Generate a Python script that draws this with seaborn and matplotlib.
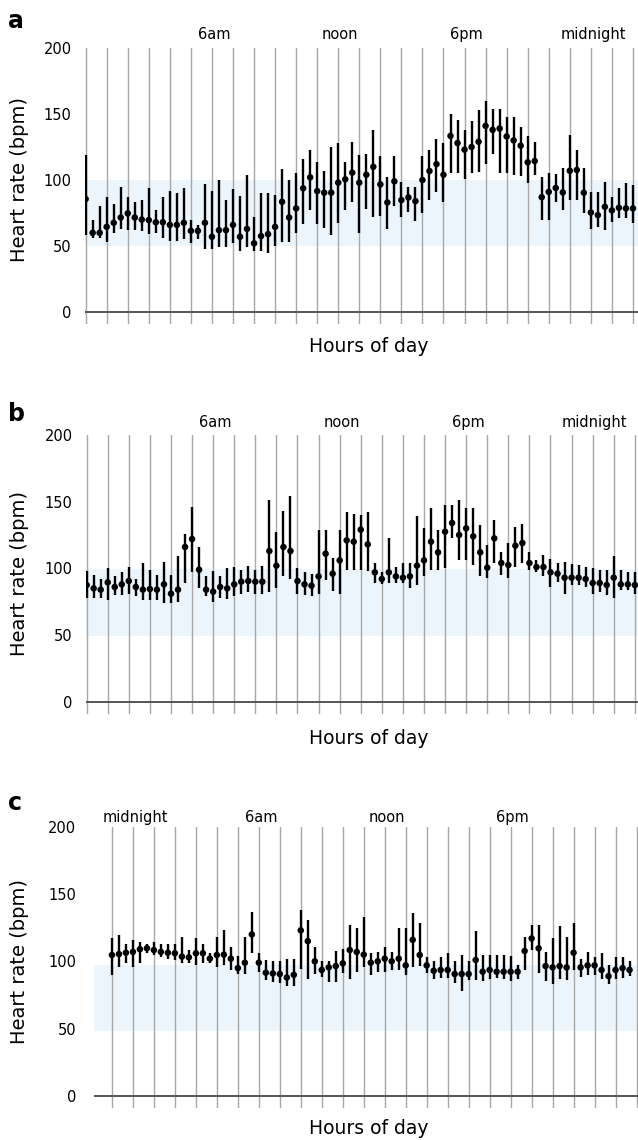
import numpy as np
import pandas as pd
import seaborn as sns
import matplotlib.pyplot as plt

# --- panel a: mean heart rate with upper / lower bar ends, every 20 min ---
a_mean = [85.6, 60, 60, 64.5, 67.6, 71.6, 74.7, 71.6, 70, 69.6, 68, 68, 66, 66, 67.6,
          61.5, 61.5, 67.6, 57, 62, 62, 66, 57, 63, 52, 57.5, 59, 64.5, 83.5, 71.6,
          78.5, 93.7, 102, 91.6, 90.4, 90.4, 98, 100.5, 105.6, 98, 104, 110, 96.7, 83,
          99, 84.8, 86.8, 84, 100, 106.8, 112, 104, 133.4, 128, 123, 125, 129, 141,
          138, 139, 133, 130, 126, 113.4, 114.4, 87, 91, 94, 90.6, 107, 107.6, 90.4,
          75.4, 73.4, 79.7, 77, 79, 78.5, 78.5]
a_hi = [119, 70, 80, 87, 82, 95, 87, 83, 85, 94, 77, 87, 92, 90, 94,
        70, 66, 97, 92, 100, 85, 93, 88, 104, 72, 90, 90, 89, 108, 100,
        105, 116, 123, 114, 107, 125, 128, 114, 129, 119, 120, 138, 118, 102.5,
        118, 98.7, 95, 95, 118, 123, 131, 128, 150, 145.6, 138, 145, 153, 159.5,
        154, 154, 148, 148, 140.5, 133, 129, 102.5, 105, 104.6, 109, 134, 123, 109,
        91, 91, 98.7, 87, 93.7, 98, 96]
a_lo = [58, 56, 56, 53, 60, 63, 62, 62, 61, 59, 60, 56, 54, 54, 55,
        52, 55, 48, 48, 49, 49, 52, 46, 49, 46, 46, 45, 50, 53, 53,
        60, 67, 77, 67, 64, 58, 67.6, 77, 83, 60, 78, 72, 72.6, 63,
        80, 72, 76, 69, 74.7, 85, 91, 83, 105, 105, 101, 105, 106, 112,
        120, 105, 105.6, 104, 103, 97.5, 104, 70, 70, 83.5, 77, 85, 85, 74.7,
        63, 64.5, 62, 68, 71, 71, 67.6]

# --- panel b ---
b_mean = [87.5, 85, 84, 89.5, 86, 88, 90.5, 86, 84, 84.5, 84, 88, 81, 84, 116,
          122, 99, 84, 82.5, 86, 85, 88, 90, 90.5, 90, 90, 113, 102, 116, 113,
          90.5, 88, 87, 94, 111, 96, 106, 121, 120, 129, 118, 97, 92, 97, 94,
          93, 94, 102, 106, 120, 112, 127.5, 134, 125, 130, 124, 112, 100.5, 122.5,
          104, 102.5, 117, 119, 104, 101, 101, 97, 96, 93, 93, 93, 92, 89, 89,
          87.5, 93, 88, 88, 87.5]
b_hi = [98, 95, 92, 100, 94, 97, 101, 92, 104, 99, 95, 105, 95, 109, 126,
        146, 116, 94, 98, 94, 100, 101, 99, 102, 99, 102, 151, 127, 143, 154,
        100, 97, 96, 129, 129, 107.5, 129, 142.5, 141, 140, 142.5, 104, 97.5, 122.5, 101,
        104, 104, 139, 130, 145, 129, 147.5, 147.5, 151, 145, 145, 132.5, 117.5, 136,
        112, 119, 131, 133, 112, 106, 110, 107, 104, 105, 103, 102.5, 101, 100, 99,
        99, 109, 99, 97, 97.5]
b_lo = [78, 78, 77.5, 76, 80, 80, 81, 79, 76, 76, 76, 74, 74, 75, 89,
        97.5, 85, 79, 75, 77.5, 77, 79, 81, 82.5, 81, 81, 82.5, 85, 94, 92,
        81, 80, 79, 81, 91, 83, 81, 99, 99, 99, 98, 89, 88, 89, 89,
        89, 85, 87.5, 94, 99, 99, 100, 122.5, 106, 106, 102.5, 94, 92.5, 104,
        95, 92.5, 101, 104, 99, 97.5, 94, 86, 90, 81, 87.5, 87.5, 86, 81, 82.5,
        80, 77.5, 84, 84, 81]

# --- panel c (starts at 11pm) ---
c_mean = [104.7, 105.4, 106.4, 107, 109, 109.7, 108.4, 107, 106.4, 106, 103.5, 103, 106, 106, 102,
          104.7, 105, 102, 95, 99, 120, 99, 91.6, 91, 90.6, 88, 90, 123, 115, 100,
          93.6, 95.5, 96.5, 98.5, 108.4, 107, 105, 99, 100, 102, 100, 102, 97, 116, 104.7,
          97, 93, 93.6, 93.6, 90.6, 90.6, 90.6, 101, 92.3, 93.6, 92.3, 92.3, 92.3, 92.3,
          107.7, 117, 109.7, 96.5, 95.5, 96.5, 95.5, 106.4, 95.5, 97, 97, 93.6, 89, 93.6,
          95, 93.6]
c_hi = [117, 119.5, 113, 116, 114.6, 113, 114.6, 113, 113, 113, 118, 108.4, 117, 113, 106,
        118, 123, 111, 104, 118, 137, 106.4, 101, 100, 100, 101.5, 101.5, 138, 131, 111,
        100, 100, 108, 109, 127, 125, 133, 106.4, 107, 111, 107, 124.5, 124.5, 136, 128.7,
        103.5, 100, 103.5, 106, 100.5, 104.7, 100, 122.8, 104.7, 104.7, 104.7, 104.7, 104, 97.3,
        118, 127, 127, 107, 117, 126, 118, 128.7, 102, 107, 103.5, 106, 97, 103.5,
        103.5, 100]
c_lo = [90, 96, 99, 96, 99, 106, 104.7, 103.5, 102, 101, 99, 99, 97, 98.5, 99,
        96, 97, 93.6, 90.6, 90.6, 106.4, 92, 86, 85, 83.7, 81.7, 81.7, 94, 87, 90.6,
        88.6, 85, 85, 91, 87, 92, 96, 90, 92, 92, 93.6, 93.6, 90, 96, 96.5,
        91.6, 86.6, 87.4, 87.4, 84, 78, 86, 86, 85.6, 86.6, 87.4, 86.6, 85.6, 86.6,
        93.6, 108.4, 91.6, 85.6, 83, 86.6, 86, 93.6, 88, 90, 90, 86.6, 83, 86.6,
        87.4, 89]

# normal range bands (bpm)
band_lo = [50, 49, 48]
band_hi = [100, 99.5, 97]

y_ticks = [0, 50, 100, 150, 200]
ab_marks = [6, 12, 18, 24]
ab_mark_labels = ['6am', 'noon', '6pm', 'midnight']
c_marks = [1, 7, 13, 19]
c_mark_labels = ['midnight', '6am', 'noon', '6pm']

W, H = 638, 1140
sns.set_style('white')
plt.rcParams['font.family'] = ['DejaVu Sans']
plt.rcParams['text.color'] = 'black'
plt.rcParams['ytick.color'] = 'black'

fig = plt.figure(figsize=(W / 100, H / 100), dpi=100)


def px_axes(left, top, right, bottom):
    return fig.add_axes([left / W, 1 - bottom / H, (right - left) / W, (bottom - top) / H])


def draw_panel(ax, mean, hi, lo, band, n_lines, xlim, marks, mark_labels, mark_y, pad):
    df = pd.DataFrame({'hour': np.arange(len(mean)) / 3, 'bpm': mean, 'hi': hi, 'lo': lo})
    ax.axhspan(band[0], band[1], color='#ecf5fc', lw=0, zorder=0)
    ax.set_xticks(np.arange(n_lines + 1))
    ax.grid(axis='x', color='#a8a8a8', lw=1.0)
    ax.grid(axis='y', visible=False)
    ax.set_axisbelow(True)
    ax.axhline(0, color='#555555', lw=1.4, zorder=1)
    ax.vlines(df['hour'], df['lo'], df['hi'], color='black', lw=1.7, zorder=3)
    sns.scatterplot(data=df, x='hour', y='bpm', color='black', s=22,
                    edgecolor='none', ax=ax, zorder=4)
    ax.set_xlim(*xlim)
    ax.set_ylim(-9, 200)
    ax.set_yticks(y_ticks)
    ax.tick_params(axis='x', length=0, labelbottom=False)
    ax.tick_params(axis='y', length=0, labelsize=10.5, pad=pad, labelcolor='black')
    ax.set_xlabel('')
    ax.set_ylabel('')
    for s in ax.spines.values():
        s.set_visible(False)
    for m, t in zip(marks, mark_labels):
        ax.text(m + 0.1, mark_y, t, ha='center', va='center', fontsize=10.5,
                color='black', clip_on=False)


ax_a = px_axes(85, 48, 638, 323.9)
draw_panel(ax_a, a_mean, a_hi, a_lo, (band_lo[0], band_hi[0]), 26, (-0.03, 26.24),
           ab_marks, ab_mark_labels, 210.5, 9.5)

ax_b = px_axes(86, 435, 638, 713.7)
draw_panel(ax_b, b_mean, b_hi, b_lo, (band_lo[1], band_hi[1]), 26, (-0.03, 26.15),
           ab_marks, ab_mark_labels, 209, 9.5)

ax_c = px_axes(94.3, 826.7, 638, 1108.1)
draw_panel(ax_c, c_mean, c_hi, c_lo, (band_lo[2], band_hi[2]), 25, (-0.84, 25.07),
           c_marks, c_mark_labels, 206.5, 13)

# panel letters, y labels, x labels
for letter, base_y, ylab_y, xlab_y in [('a', 28, 180, 347), ('b', 421, 573, 738), ('c', 810, 962, 1128)]:
    fig.text(8 / W, 1 - base_y / H, letter, fontsize=17, fontweight='bold', va='baseline', ha='left')
    fig.text(20 / W, 1 - ylab_y / H, 'Heart rate (bpm)', fontsize=14, rotation=90,
             ha='center', va='center')
    fig.text(369 / W, 1 - xlab_y / H, 'Hours of day', fontsize=13.5, ha='center', va='center')

fig.savefig('out.png', dpi=100)
